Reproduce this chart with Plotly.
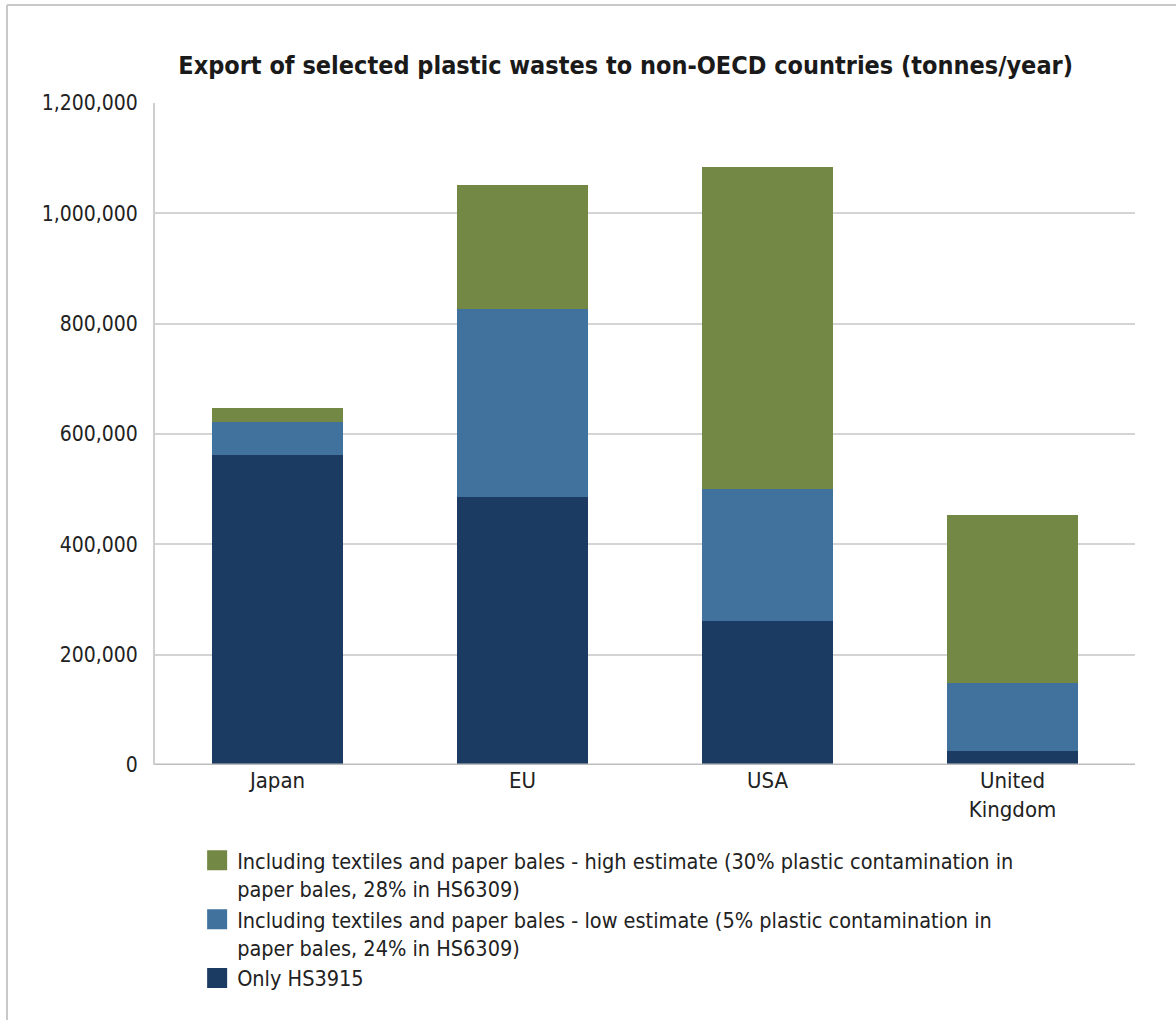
import plotly.graph_objects as go

countries = ["Japan", "EU", "USA", "United<br>Kingdom"]
only_hs3915 = [562000, 486000, 261000, 25000]
low_estimate_total = [622000, 827000, 500000, 149000]
high_estimate_total = [647000, 1051000, 1084000, 453000]

low_extra = [l - h for l, h in zip(low_estimate_total, only_hs3915)]
high_extra = [h - l for h, l in zip(high_estimate_total, low_estimate_total)]

names = [
    "Only HS3915",
    "Including textiles and paper bales - low estimate (5% plastic contamination in<br>paper bales, 24% in HS6309)",
    "Including textiles and paper bales - high estimate (30% plastic contamination in<br>paper bales, 28% in HS6309)",
]
colors = ["#1c3b63", "#41729e", "#748845"]

FONT = "DejaVu Sans Condensed, Liberation Sans Narrow, sans-serif"

fig = go.Figure()
for name, vals, col in zip(names, [only_hs3915, low_extra, high_extra], colors):
    fig.add_trace(go.Bar(
        x=countries, y=vals, name=name, legendgroup=name, showlegend=False,
        marker=dict(color=col, line=dict(width=0)),
        hovertemplate="%{x}: %{y:,}<extra></extra>",
    ))

# legend entries (larger square swatches), top to bottom
for name, col in reversed(list(zip(names, colors))):
    fig.add_trace(go.Scatter(
        x=[None], y=[None], mode="markers", name=name, legendgroup=name,
        marker=dict(symbol="square", size=16, color=col, line=dict(color=col, width=4)),
        hoverinfo="skip",
    ))

fig.update_layout(
    barmode="stack",
    bargap=0.465,
    width=1176, height=1020,
    margin=dict(l=155, r=41, t=103, b=255),
    paper_bgcolor="white", plot_bgcolor="white",
    font=dict(family=FONT, size=22, color="#222222"),
    title=dict(
        text="<b>Export of selected plastic wastes to non-OECD countries (tonnes/year)</b>",
        x=0.532, xanchor="center", y=0.936, yanchor="middle",
        font=dict(family=FONT, size=25, color="#1a1a1a"),
    ),
    legend=dict(
        orientation="v", traceorder="grouped", valign="top",
        x=0.043, xanchor="left", y=-0.113, yanchor="top",
        font=dict(family=FONT, size=21.5, color="#222222"),
        tracegroupgap=0, itemsizing="trace",
        bgcolor="rgba(0,0,0,0)",
    ),
    showlegend=True,
)

fig.update_yaxes(
    range=[0, 1200000], tickvals=[0, 200000, 400000, 600000, 800000, 1000000, 1200000],
    tickformat=",d", showgrid=True, gridcolor="#d4d4d4", gridwidth=2,
    zeroline=False, showline=True, linecolor="#cfcfcf", linewidth=2,
    ticks="", ticklabelstandoff=11, tickfont=dict(size=21),
    fixedrange=True,
)
fig.update_xaxes(
    showline=False, ticks="", tickfont=dict(size=22), fixedrange=True,
)

# baseline at zero
fig.add_shape(type="line", xref="paper", yref="y", x0=0, x1=1, y0=0, y1=0,
              line=dict(color="#bdbdbd", width=3), layer="above")
# outer frame (top and left)
fig.add_shape(type="line", xref="paper", yref="paper", x0=-0.151, x1=1.05, y0=1.148, y1=1.148,
              line=dict(color="#c8c8c8", width=2))
fig.add_shape(type="line", xref="paper", yref="paper", x0=-0.151, x1=-0.151, y0=1.148, y1=-0.4,
              line=dict(color="#c8c8c8", width=2))

fig.write_html("out.html")
